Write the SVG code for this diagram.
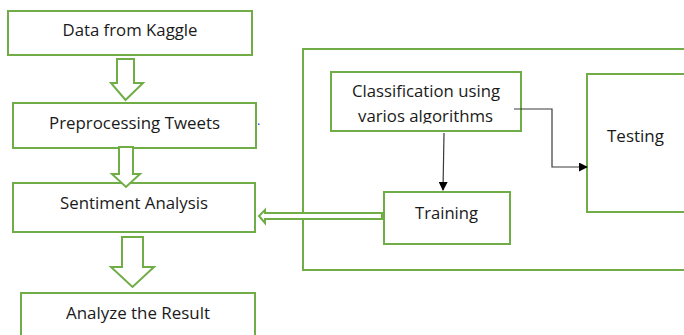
<svg xmlns="http://www.w3.org/2000/svg" width="684" height="335" viewBox="0 0 684 335">
  <style>
    .box { fill: #ffffff; stroke: #70AD47; stroke-width: 2; }
    .frame { fill: none; stroke: #70AD47; stroke-width: 2; }
    .hollow { fill: #ffffff; stroke: #70AD47; stroke-width: 2; stroke-linejoin: miter; }
    .label { font-family: "Open Sans", "Liberation Sans", sans-serif; font-size: 17px; fill: #1a1a1a; }
    .link { fill: none; stroke: #3a3a3a; stroke-width: 1.2; }
  </style>
  <defs>
    <marker id="head" viewBox="0 0 10 10" refX="9" refY="5" markerWidth="9" markerHeight="9" markerUnits="userSpaceOnUse" orient="auto">
      <path d="M0,0 L10,5 L0,10 Z" fill="#000000"/>
    </marker>
    <clipPath id="classClip">
      <rect x="331" y="72" width="190" height="51.5"/>
    </clipPath>
  </defs>
  <rect width="684" height="335" fill="#ffffff"/>

  <!-- outer frame around the model stage -->
  <g id="model-stage">
    <rect class="frame" x="303" y="49" width="390" height="221"/>
  </g>

  <!-- left pipeline -->
  <g id="data-kaggle">
    <rect class="box" x="8" y="11" width="244" height="44"/>
    <text class="label" x="130" y="36" text-anchor="middle" textLength="135" lengthAdjust="spacingAndGlyphs">Data from Kaggle</text>
  </g>
  <g id="preprocessing">
    <rect class="box" x="13" y="103" width="243" height="45"/>
    <text class="label" x="134.5" y="129" text-anchor="middle" textLength="171" lengthAdjust="spacingAndGlyphs">Preprocessing Tweets</text>
  </g>
  <g id="sentiment">
    <rect class="box" x="13" y="183" width="242" height="49"/>
    <text class="label" x="134" y="209" text-anchor="middle" textLength="148" lengthAdjust="spacingAndGlyphs">Sentiment Analysis</text>
  </g>
  <g id="analyze">
    <rect class="box" x="21" y="293" width="234" height="50"/>
    <text class="label" x="138" y="319" text-anchor="middle" textLength="144" lengthAdjust="spacingAndGlyphs">Analyze the Result</text>
  </g>

  <!-- model stage boxes -->
  <g id="classification">
    <rect class="box" x="331" y="72" width="190" height="59"/>
    <text class="label" x="426" y="97" text-anchor="middle" textLength="148" lengthAdjust="spacingAndGlyphs">Classification using</text>
    <text class="label" x="425.5" y="122" text-anchor="middle" textLength="135" lengthAdjust="spacingAndGlyphs" clip-path="url(#classClip)">varios algorithms</text>
  </g>
  <g id="testing">
    <rect class="box" x="587" y="74" width="110" height="138"/>
    <text class="label" x="635.5" y="142" text-anchor="middle" textLength="57" lengthAdjust="spacingAndGlyphs">Testing</text>
  </g>
  <g id="training">
    <rect class="box" x="384" y="192" width="126" height="52"/>
    <text class="label" x="446.5" y="219" text-anchor="middle" textLength="63" lengthAdjust="spacingAndGlyphs">Training</text>
  </g>

  <!-- connectors -->
  <g id="connectors">
    <!-- block arrows down the pipeline -->
    <path class="hollow" d="M117,59 L134,59 L134,83 L143,83 L125.5,100 L111,83 L117,83 Z"/>
    <path class="hollow" d="M119,147 L133,147 L133,174 L140,174 L126,187 L112,174 L119,174 Z"/>
    <path class="hollow" d="M122,237 L143,237 L143,267 L154,267 L132.5,287 L111,267 L122,267 Z"/>
    <!-- training results fed back to sentiment analysis -->
    <path class="hollow" d="M382,213 L382,219 L265,219 L265,223 L259,216 L265,210 L265,213 Z"/>
    <!-- classification to training -->
    <line class="link" x1="444" y1="133" x2="443" y2="190" marker-end="url(#head)"/>
    <!-- classification to testing -->
    <polyline class="link" points="514,109 552,109 552,167 587,167" marker-end="url(#head)"/>
    <!-- stray cursor mark -->
    <rect x="258" y="123.5" width="1.5" height="1.5" fill="#3355ff"/>
  </g>
</svg>
